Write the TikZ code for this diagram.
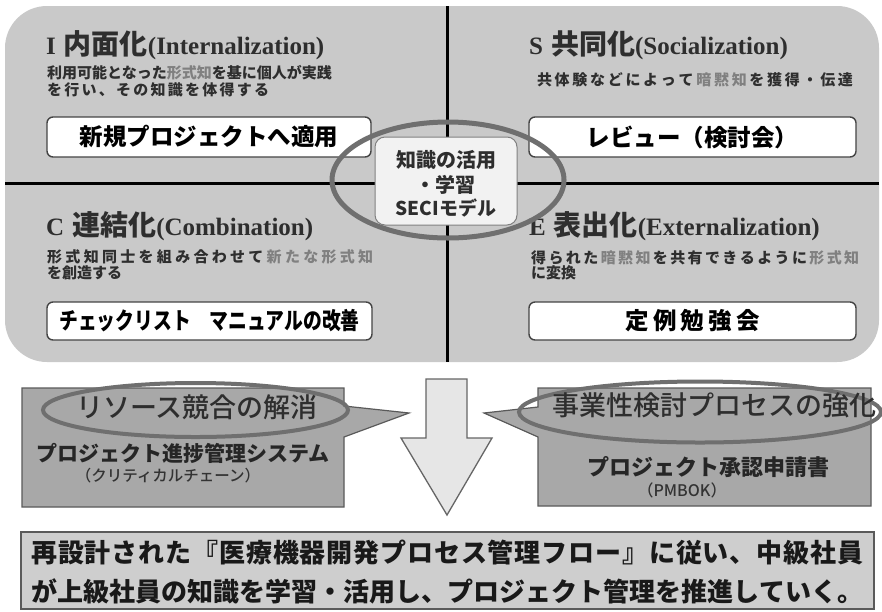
\documentclass[tikz,border=0pt]{standalone}
\usepackage{fontspec}
\setmainfont{Noto Sans CJK JP}
\newfontfamily\tnr{Liberation Serif}
\IfFontExistsTF{Noto Sans CJK JP Medium}
  {\newfontfamily\jpm{Noto Sans CJK JP Medium}}
  {\newfontfamily\jpm{Noto Sans CJK JP}[FakeBold=2.5]}
\usetikzlibrary{shapes.geometric}
\definecolor{bg}{HTML}{C9C9C9}
\definecolor{tc}{HTML}{2E2E2E}
\definecolor{hl}{HTML}{808080}
\definecolor{boxb}{HTML}{444444}
\definecolor{elc}{HTML}{6F6F6F}
\definecolor{cal}{HTML}{A8A8A8}
\definecolor{calb}{HTML}{5A5A5A}
\definecolor{arr}{HTML}{E6E6E6}
\definecolor{arrb}{HTML}{666666}
\definecolor{botf}{HTML}{CECECE}
\definecolor{cbox}{HTML}{F2F2F2}
\def\hlon{\color{hl}}
\def\hloff{\color{tc}}
\def\spin#1#2{#1\ifx\relax#2\else\ifcat\noexpand#1\relax\else\hfil\fi\expandafter\spin\expandafter#2\fi}
\newcommand\spread[2]{\makebox[#1][s]{\spin#2\relax}}
\newcommand\qtitle[3]{{\tnr\bfseries\fontsize{25}{30}\selectfont #1}\hspace{8pt}{\bfseries\fontsize{28}{30}\selectfont #2}{\tnr\bfseries\fontsize{25}{30}\selectfont (#3)}}
\begin{document}
\begin{tikzpicture}[x=1pt, y=-1pt,
  ttl/.style={anchor=west, inner sep=0pt, text=tc},
  dsc/.style={anchor=west, inner sep=0pt, text=tc, font=\bfseries\fontsize{15}{17}\selectfont},
  qbox/.style={draw=boxb, line width=1.4pt, fill=white, rounded corners=6pt, inner sep=0pt, text=black, font=\bfseries\fontsize{23.5}{28}\selectfont},
  callout/.style={fill=cal, draw=calb, line width=1.2pt},
  oval/.style={ellipse, draw=elc, line width=4pt, inner sep=0pt},
  divider/.style={line width=3pt, black},
  ctext/.style={inner sep=0pt, text=tc}]
\useasboundingbox (0,0) rectangle (882,611);
\fill[white] (0,0) rectangle (882,611);
% main panel
\node[fill=bg, rounded corners=42pt, minimum width=874, minimum height=356, inner sep=0pt] (panel) at (442,184) {};
\coordinate (hL) at (5,183); \coordinate (hR) at (879,183);
\coordinate (vT) at (447,6); \coordinate (vB) at (447,362);
\draw[divider] (hL) -- (hR);
\draw[divider] (vT) -- (vB);
% quadrant boxes
\node[qbox, minimum width=324, minimum height=40] (bI) at (209,137) {新規プロジェクトへ適用};
\node[qbox, minimum width=327, minimum height=40] (bS) at (692.5,137) {レビュー（検討会）};
\node[qbox, minimum width=325, minimum height=38] (bC) at (209.5,321) {\scalebox{0.8}[1]{チェックリスト　マニュアルの改善}};
\node[qbox, minimum width=327, minimum height=38] (bE) at (692.5,321) {\spread{134pt}{定例勉強会}};
% titles
\node[ttl] (tI) at (46,45) {\qtitle{I}{内面化}{Internalization}};
\node[ttl] (tS) at (529,45) {\qtitle{S}{共同化}{Socialization}};
\node[ttl] (tC) at (46,226) {\qtitle{C}{連結化}{Combination}};
\node[ttl] (tE) at (529,226) {\qtitle{E}{表出化}{Externalization}};
% descriptions
\node[dsc] (dI1) at (47,73) {利用可能となった\hlon 形式知\hloff を基に個人が実践};
\node[dsc] (dI2) at (47,90) {\spread{222pt}{を行い、その知識を体得する}};
\node[dsc, anchor=center] (dS1) at (695,80) {\spread{316pt}{共体験などによって\hlon 暗黙知\hloff を獲得・伝達}};
\node[dsc] (dC1) at (47,257) {\spread{326pt}{形式知同士を組み合わせて\hlon 新たな形式知}};
\node[dsc] (dC2) at (47,273) {を創造する};
\node[dsc] (dE1) at (531,258) {\spread{328pt}{得られた\hlon 暗黙知\hloff を共有できるように\hlon 形式知}};
\node[dsc] (dE2) at (531,273) {に変換};
% SECI ellipse and centre box
\node[oval, line width=5pt, minimum width=232, minimum height=116] (seciel) at (448,180) {};
\node[fill=cbox, draw=gray, line width=1pt, rounded corners=10pt, minimum width=142, minimum height=88, inner sep=0pt] (seci) at (446,181) {};
\node[ctext, font=\bfseries\fontsize{20}{24}\selectfont] (s1) at (446,160) {知識の活用};
\node[ctext, font=\bfseries\fontsize{20}{24}\selectfont] (s2) at (445,185) {・学習};
\node[ctext, font=\bfseries\fontsize{19}{24}\selectfont] (s3) at (446,208) {SECIモデル};
% down arrow
\draw[fill=arr, draw=arrb, line width=1.3pt] (426,379) -- (467,379) -- (467,438) -- (492,438) -- (447,515) -- (401,438) -- (426,438) -- cycle;
% callouts
\draw[callout] (22,388) -- (344,388) -- (344,406) -- (409,413) -- (344,437) -- (344,507) -- (22,507) -- cycle;
\draw[callout] (538,388) -- (871,388) -- (871,506) -- (538,506) -- (538,437) -- (484,413) -- (538,407) -- cycle;
\node[oval, minimum width=305, minimum height=54] (elL) at (195.5,410) {};
\node[oval, minimum width=362, minimum height=61] (elR) at (700,412) {};
\node[ctext, font=\jpm\fontsize{27}{30}\selectfont] (kL) at (197,407) {リソース競合の解消};
\node[ctext, font=\jpm\fontsize{27}{30}\selectfont] (kR) at (714,405) {事業性検討プロセスの強化};
\node[ctext, text=black!85, font=\bfseries\fontsize{21}{24}\selectfont] (pL) at (183,453) {プロジェクト進捗管理システム};
\node[ctext, text=black!80, font=\jpm\fontsize{15.5}{18}\selectfont] (qL) at (168,476) {（クリティカルチェーン）};
\node[ctext, text=black!85, font=\bfseries\fontsize{22}{24}\selectfont] (pR) at (708,467) {プロジェクト承認申請書};
\node[ctext, text=black!80, font=\jpm\fontsize{16}{18}\selectfont] (qR) at (682,490) {（PMBOK）};
% bottom box
\node[fill=botf, draw=calb, line width=1.3pt, minimum width=853, minimum height=77, inner sep=0pt] (bot) at (447.5,570.5) {};
\node[anchor=west, inner sep=0pt, text=black!90, font=\bfseries\fontsize{26}{30}\selectfont] (l1) at (31,553) {\spread{832pt}{再設計された『医療機器開発プロセス管理フロー』に従い、中級社員}};
\node[anchor=west, inner sep=0pt, text=black!90, font=\bfseries\fontsize{26}{30}\selectfont] (l2) at (31,591) {\spread{832pt}{が上級社員の知識を学習・活用し、プロジェクト管理を推進していく。}};
\end{tikzpicture}
\end{document}
